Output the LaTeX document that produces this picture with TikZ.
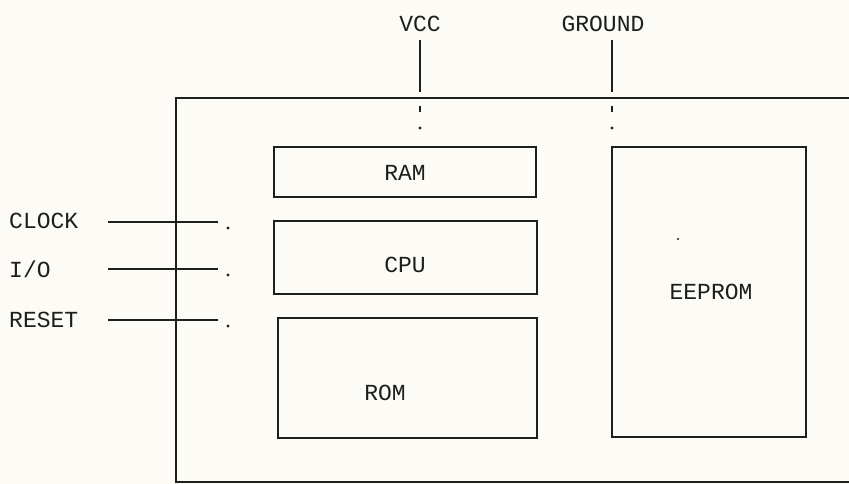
\documentclass[tikz,border=0pt]{standalone}
\usepackage{fontspec}
\setmonofont{Liberation Mono}
\usetikzlibrary{calc}
\definecolor{paper}{RGB}{252,251,246}
\definecolor{ink}{RGB}{30,30,30}
\begin{document}
\begin{tikzpicture}[x=1pt,y=-1pt,
  box/.style={draw=ink, line width=2.2pt, inner sep=0pt, fill=none},
  lbl/.style={font=\ttfamily\fontsize{23}{23}\selectfont, text=ink, inner sep=0pt},
  wire/.style={draw=ink, line width=2pt},
  dotmark/.style={fill=ink, circle, inner sep=0pt, minimum size=3.2pt}]
\fill[paper] (0,0) rectangle (849,484);
\useasboundingbox (0,0) rectangle (849,484);
% outer module outline
\draw[ink, line width=2.8pt] (860,98) -- (176,98) -- (176,482) -- (860,482);
% inner blocks
\node[box, minimum width=262, minimum height=50] (ram) at (405,172) {};
\node[lbl] (ramtxt) at (405,173) {RAM};
\node[box, minimum width=263, minimum height=73] (cpu) at (405.5,257.5) {};
\node[lbl] (cputxt) at (405,265) {CPU};
\node[box, minimum width=259, minimum height=120] (rom) at (407.5,378) {};
\node[lbl] (romtxt) at (385,393) {ROM};
\node[box, minimum width=194, minimum height=290] (eeprom) at (709,292) {};
\node[lbl] (eeptxt) at (711,292) {EEPROM};
% supply pins
\node[lbl] (vcc) at (420,24) {VCC};
\node[lbl] (gnd) at (603,24) {GROUND};
\coordinate (vccend) at (420,92);
\coordinate (gndend) at (612,92);
\draw[wire] (vcc.south |- 0,40) -- (vccend);
\draw[wire] (612,40) -- (gndend);
\draw[wire, line width=1.4pt] (420,106) -- (420,112);
\draw[wire, line width=1.4pt] (612,106) -- (612,112);
\node[dotmark] (vccdot) at (420,128) {};
\node[dotmark] (gnddot) at (612,128) {};
\node[dotmark, minimum size=2.4pt] (eepdot) at (678,239) {};
% signal pins
\node[lbl, anchor=west] (clk) at (9,221) {CLOCK};
\node[lbl, anchor=west] (io) at (9,269) {I/O};
\node[lbl, anchor=west] (rst) at (9,320) {RESET};
\coordinate (clkend) at (218,222);
\coordinate (ioend) at (218,269);
\coordinate (rstend) at (218,320);
\draw[wire] (108,222) -- (clkend);
\draw[wire] (108,269) -- (ioend);
\draw[wire] (108,320) -- (rstend);
\node[dotmark] (clkdot) at (228,228) {};
\node[dotmark] (iodot) at (228,275) {};
\node[dotmark] (rstdot) at (228,326) {};
\end{tikzpicture}
\end{document}
